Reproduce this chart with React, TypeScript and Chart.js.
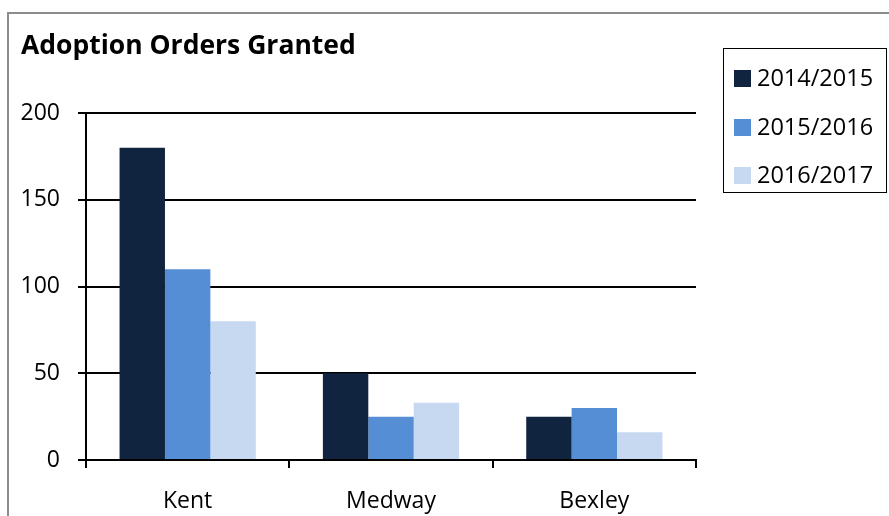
import React, { useEffect, useRef } from "react";
import { Chart, registerables } from "chart.js";

Chart.register(...registerables);

const categories = ["Kent", "Medway", "Bexley"];
const seriesLabels = ["2014/2015", "2015/2016", "2016/2017"];
const values2014 = [180, 50, 25];
const values2015 = [110, 25, 30];
const values2016 = [80, 33, 16];
const seriesColors = ["#10243F", "#558ED5", "#C6D9F1"];
const yTicks = [0, 50, 100, 150, 200];

const FONT = "'Open Sans', 'DejaVu Sans', sans-serif";

const framePlugin = {
  id: "frameAndLegend",
  afterDraw(chart: any) {
    const ctx = chart.ctx;
    ctx.save();
    // outer frame
    ctx.strokeStyle = "#8C8C8C";
    ctx.lineWidth = 2;
    ctx.strokeRect(8, 13, 1000, 1000);
    // legend box
    ctx.strokeStyle = "#000000";
    ctx.lineWidth = 1;
    ctx.strokeRect(723.5, 48.5, 163, 144);
    const rowsY = [78, 127, 175];
    ctx.font = `23.5px ${FONT}`;
    ctx.textBaseline = "middle";
    ctx.textAlign = "left";
    chart.data.datasets.forEach((ds: any, i: number) => {
      ctx.fillStyle = ds.backgroundColor;
      ctx.fillRect(734, rowsY[i] - 8, 17, 17);
      ctx.fillStyle = "#000000";
      ctx.fillText(ds.label, 757, rowsY[i] + 1);
    });
    ctx.restore();
  },
};

export default function App() {
  const ref = useRef<HTMLCanvasElement | null>(null);
  useEffect(() => {
    if (!ref.current) return;
    const values = [values2014, values2015, values2016];
    const chart = new Chart(ref.current, {
      type: "bar",
      data: {
        labels: categories,
        datasets: seriesLabels.map((label, i) => ({
          label,
          data: values[i],
          backgroundColor: seriesColors[i],
          borderWidth: 0,
          categoryPercentage: 0.67,
          barPercentage: 1,
        })),
      },
      options: {
        animation: false,
        responsive: false,
        layout: { padding: { left: 21, right: 193, top: 0, bottom: 0 } },
        plugins: {
          legend: { display: false },
          tooltip: { enabled: false },
          title: {
            display: true,
            text: "Adoption Orders Granted",
            align: "start",
            color: "#000000",
            font: { family: FONT, size: 26.5, weight: "bold", lineHeight: 1.2 },
            padding: { top: 31, bottom: 50.2 },
          },
        },
        scales: {
          x: {
            grid: {
              display: true,
              drawOnChartArea: false,
              drawTicks: true,
              tickLength: 8,
              color: "#000000",
              lineWidth: 2,
              offset: true,
            },
            border: { display: true, color: "#000000", width: 2 },
            ticks: {
              color: "#000000",
              font: { family: FONT, size: 23 },
              padding: 20,
            },
            afterFit: (scale: any) => {
              scale.height = 56;
            },
          },
          y: {
            min: 0,
            max: 200,
            afterBuildTicks: (scale: any) => {
              scale.ticks = yTicks.map((v) => ({ value: v }));
            },
            grid: {
              color: "#000000",
              lineWidth: 2,
              drawTicks: true,
              tickLength: 8,
            },
            border: { display: true, color: "#000000", width: 2 },
            ticks: {
              color: "#000000",
              font: { family: FONT, size: 23 },
              padding: 18,
            },
            afterFit: (scale: any) => {
              scale.width = 65;
            },
          },
        },
      },
      plugins: [framePlugin],
    });
    return () => chart.destroy();
  }, []);
  return (
    <div style={{ position: "fixed", left: 0, top: 0, width: 889, height: 516, background: "#fff" }}>
      <canvas ref={ref} width={889} height={516} style={{ display: "block" }} />
    </div>
  );
}
